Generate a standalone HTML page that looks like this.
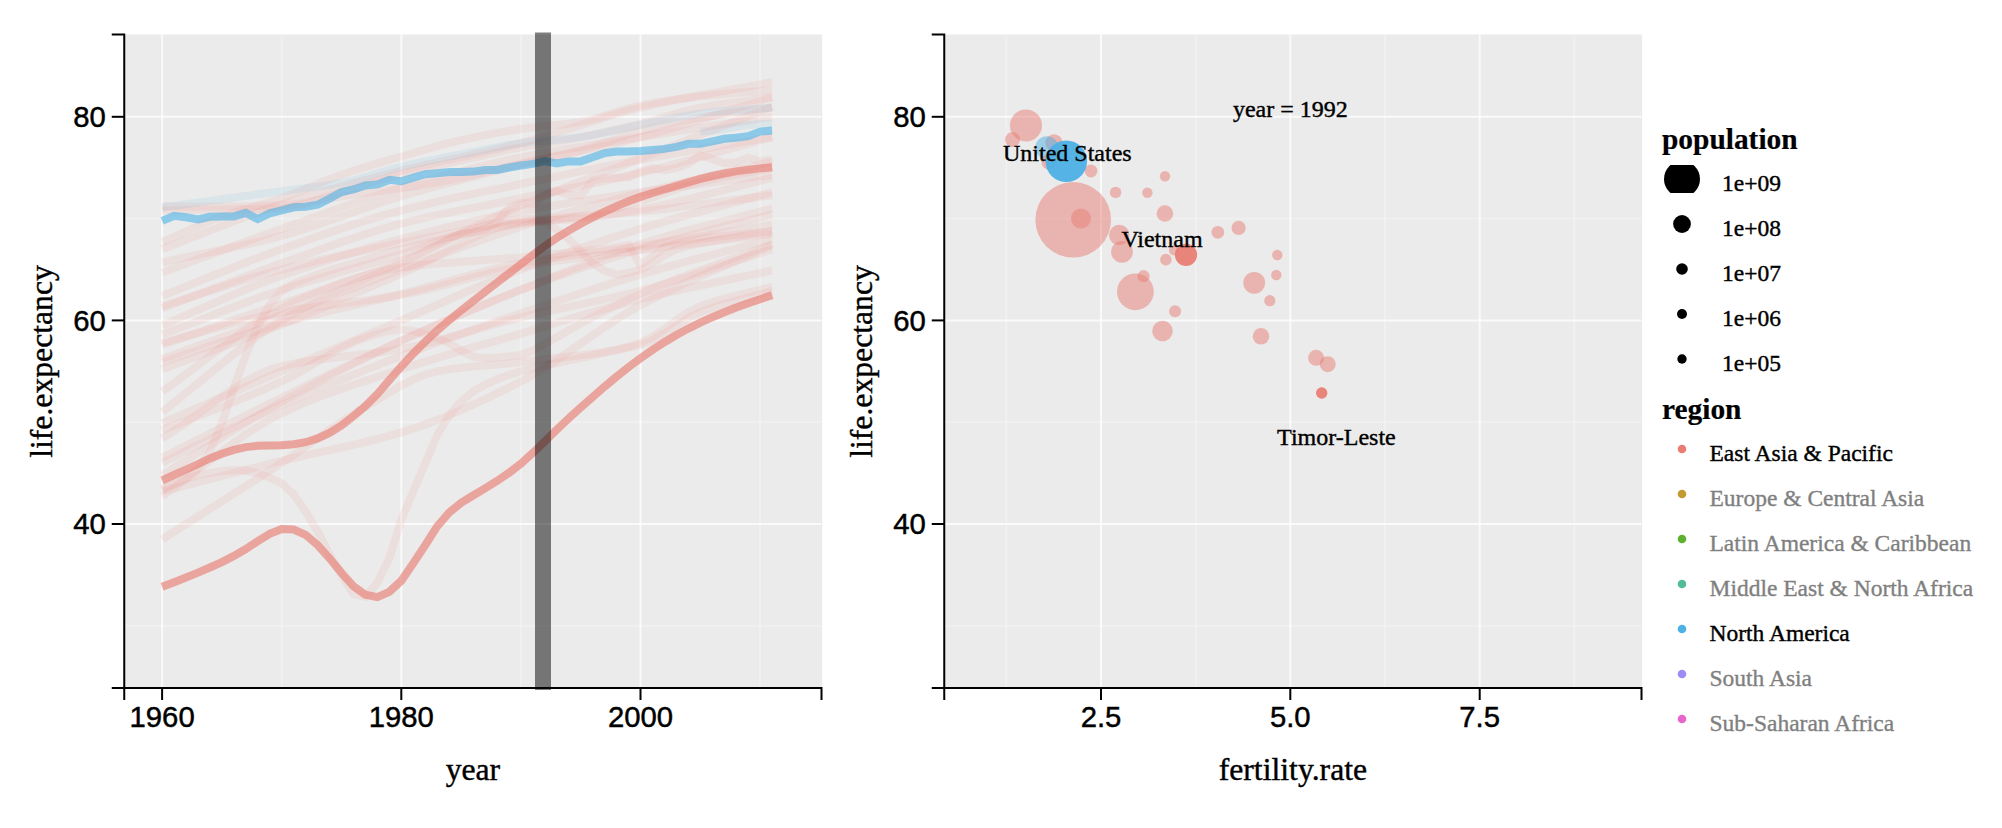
<!DOCTYPE html>
<html lang="en"><head><meta charset="utf-8"><title>ggvis linked plots</title>
<style>html,body{margin:0;padding:0;background:#fff;overflow:hidden}svg{display:block}.sans{font-family:"Liberation Sans",Arial,Helvetica,sans-serif;font-size:29.3px;fill:#000;stroke:#000;stroke-width:.45px}.ser{font-family:"Liberation Serif","Times New Roman",Times,serif;fill:#000;stroke:#000;stroke-width:.4px}.lt{stroke-width:.2px}.t{font-size:31.7px}.lt{font-size:29.4px;font-weight:bold}.ll{font-size:23.5px}.m{font-size:24px}</style></head><body>
<svg width="2002" height="828" viewBox="0 0 2002 828">
<rect width="2002" height="828" fill="#fff"/>
<rect x="124.25" y="34.5" width="697.9" height="652.5" fill="#ebebeb"/>
<path d="M281.7,34.5V687" stroke="#fff" stroke-opacity=".27" stroke-width="2"/><path d="M520.9,34.5V687" stroke="#fff" stroke-opacity=".27" stroke-width="2"/><path d="M760.1,34.5V687" stroke="#fff" stroke-opacity=".27" stroke-width="2"/><path d="M124.25,218.6H821.5" stroke="#fff" stroke-opacity=".27" stroke-width="2"/><path d="M124.25,422.2H821.5" stroke="#fff" stroke-opacity=".27" stroke-width="2"/><path d="M124.25,625.8H821.5" stroke="#fff" stroke-opacity=".27" stroke-width="2"/><path d="M162.1,34.5V687" stroke="#fff" stroke-opacity=".72" stroke-width="2"/><path d="M401.3,34.5V687" stroke="#fff" stroke-opacity=".72" stroke-width="2"/><path d="M640.5,34.5V687" stroke="#fff" stroke-opacity=".72" stroke-width="2"/><path d="M124.25,116.8H821.5" stroke="#fff" stroke-opacity=".72" stroke-width="2"/><path d="M124.25,320.4H821.5" stroke="#fff" stroke-opacity=".72" stroke-width="2"/><path d="M124.25,524.0H821.5" stroke="#fff" stroke-opacity=".72" stroke-width="2"/>
<g fill="none" stroke-width="8" stroke-linejoin="miter">
<path d="M162.1,210.4L174.1,210.2L186.0,210.0L198.0,209.8L209.9,209.6L221.9,209.4L233.9,209.2L245.8,209.1L257.8,208.9L269.7,208.7L281.7,208.4L293.7,207.0L305.6,204.0L317.6,200.1L329.5,195.9L341.5,192.1L353.5,188.5L365.4,184.6L377.4,180.8L389.3,177.1L401.3,173.8L413.3,170.9L425.2,168.2L437.2,165.6L449.1,163.1L461.1,160.5L473.1,157.8L485.0,155.1L497.0,152.3L508.9,149.7L520.9,147.3L532.9,145.1L544.8,143.2L556.8,141.3L568.7,139.3L580.7,137.1L592.7,134.7L604.6,132.2L616.6,129.5L628.5,126.8L640.5,123.9L652.5,120.7L664.4,117.1L676.4,113.6L688.3,110.3L700.3,107.6L712.3,105.5L724.2,103.7L736.2,102.1L748.1,100.6L760.1,99.0L772.1,97.4" stroke="#E87E73" stroke-opacity=".105"/>
<path d="M162.1,295.9L174.1,291.2L186.0,286.4L198.0,281.6L209.9,276.8L221.9,272.0L233.9,267.2L245.8,262.5L257.8,257.9L269.7,253.4L281.7,249.1L293.7,244.9L305.6,240.7L317.6,236.5L329.5,232.4L341.5,228.4L353.5,224.5L365.4,220.7L377.4,217.1L389.3,213.7L401.3,210.4L413.3,207.4L425.2,204.5L437.2,201.7L449.1,199.0L461.1,196.4L473.1,193.9L485.0,191.4L497.0,189.0L508.9,186.5L520.9,184.0L532.9,181.4L544.8,178.9L556.8,176.3L568.7,173.8L580.7,171.3L592.7,168.9L604.6,166.5L616.6,164.1L628.5,161.8L640.5,159.5L652.5,157.3L664.4,155.2L676.4,153.1L688.3,151.1L700.3,149.1L712.3,147.1L724.2,145.1L736.2,143.1L748.1,141.1L760.1,139.1L772.1,137.1" stroke="#E87E73" stroke-opacity=".105"/>
<path d="M162.1,490.4L174.1,484.7L186.0,479.0L198.0,475.1L209.9,472.9L221.9,471.0L233.9,470.1L245.8,470.6L257.8,473.3L269.7,477.7L281.7,483.3L293.7,494.4L305.6,511.5L317.6,531.2L329.5,554.5L341.5,574.9L353.5,593.9L365.4,596.7L377.4,582.6L389.3,558.2L401.3,519.9L413.3,491.1L425.2,463.5L437.2,435.0L449.1,415.9L461.1,401.6L473.1,391.6L485.0,384.8L497.0,379.4L508.9,375.0L520.9,371.3L532.9,368.1L544.8,365.5L556.8,363.1L568.7,360.7L580.7,358.0L592.7,355.3L604.6,352.7L616.6,349.9L628.5,346.7L640.5,342.8L652.5,336.9L664.4,328.9L676.4,320.2L688.3,312.1L700.3,306.1L712.3,302.0L724.2,298.5L736.2,295.5L748.1,292.6L760.1,289.8L772.1,286.8" stroke="#E87E73" stroke-opacity=".105"/>
<path d="M162.1,488.4L174.1,483.8L186.0,478.2L198.0,468.4L209.9,452.1L221.9,423.0L233.9,387.7L245.8,354.9L257.8,325.5L269.7,304.7L281.7,290.9L293.7,283.8L305.6,278.9L317.6,274.6L329.5,270.5L341.5,266.9L353.5,263.4L365.4,259.7L377.4,256.0L389.3,252.4L401.3,249.1L413.3,246.0L425.2,243.0L437.2,240.2L449.1,237.4L461.1,234.9L473.1,232.4L485.0,229.9L497.0,227.7L508.9,225.5L520.9,223.7L532.9,222.1L544.8,220.8L556.8,219.6L568.7,218.2L580.7,216.5L592.7,214.2L604.6,211.4L616.6,208.2L628.5,204.7L640.5,201.3L652.5,197.5L664.4,193.4L676.4,189.2L688.3,185.3L700.3,181.9L712.3,179.1L724.2,176.6L736.2,174.3L748.1,172.2L760.1,170.0L772.1,167.7" stroke="#E87E73" stroke-opacity=".105"/>
<path d="M162.1,362.1L174.1,358.2L186.0,354.2L198.0,350.2L209.9,346.1L221.9,342.1L233.9,338.2L245.8,334.3L257.8,330.5L269.7,326.9L281.7,323.4L293.7,320.2L305.6,317.0L317.6,314.0L329.5,311.1L341.5,308.2L353.5,305.4L365.4,302.6L377.4,299.8L389.3,296.9L401.3,293.9L413.3,290.8L425.2,287.6L437.2,284.3L449.1,281.0L461.1,277.6L473.1,274.4L485.0,271.3L497.0,268.4L508.9,265.7L520.9,263.4L532.9,261.3L544.8,259.3L556.8,257.5L568.7,255.8L580.7,254.2L592.7,252.7L604.6,251.1L616.6,249.5L628.5,247.8L640.5,246.1L652.5,244.2L664.4,242.3L676.4,240.4L688.3,238.5L700.3,236.5L712.3,234.5L724.2,232.6L736.2,230.6L748.1,228.6L760.1,226.6L772.1,224.7" stroke="#E87E73" stroke-opacity=".105"/>
<path d="M162.1,359.1L174.1,354.7L186.0,350.3L198.0,346.0L209.9,341.7L221.9,337.3L233.9,332.9L245.8,328.6L257.8,324.2L269.7,319.7L281.7,315.3L293.7,310.8L305.6,306.2L317.6,301.6L329.5,297.0L341.5,292.3L353.5,287.7L365.4,283.1L377.4,278.5L389.3,273.9L401.3,269.5L413.3,265.0L425.2,260.6L437.2,256.1L449.1,251.7L461.1,247.3L473.1,242.9L485.0,238.7L497.0,234.6L508.9,230.6L520.9,226.7L532.9,223.0L544.8,219.4L556.8,215.9L568.7,212.4L580.7,209.1L592.7,205.8L604.6,202.6L616.6,199.4L628.5,196.2L640.5,193.1L652.5,190.1L664.4,187.1L676.4,184.1L688.3,181.3L700.3,178.4L712.3,175.6L724.2,172.8L736.2,170.0L748.1,167.2L760.1,164.4L772.1,161.6" stroke="#E87E73" stroke-opacity=".105"/>
<path d="M162.1,308.2L174.1,303.7L186.0,299.1L198.0,294.6L209.9,290.0L221.9,285.4L233.9,280.9L245.8,276.4L257.8,272.0L269.7,267.6L281.7,263.4L293.7,259.1L305.6,254.8L317.6,250.6L329.5,246.3L341.5,242.1L353.5,238.1L365.4,234.1L377.4,230.4L389.3,226.9L401.3,223.7L413.3,220.7L425.2,217.9L437.2,215.2L449.1,212.7L461.1,210.2L473.1,207.9L485.0,205.5L497.0,203.1L508.9,200.7L520.9,198.2L532.9,195.7L544.8,193.2L556.8,190.8L568.7,188.3L580.7,185.9L592.7,183.4L604.6,180.8L616.6,178.2L628.5,175.5L640.5,172.8L652.5,169.8L664.4,166.8L676.4,163.7L688.3,160.4L700.3,157.1L712.3,153.8L724.2,150.4L736.2,147.1L748.1,143.7L760.1,140.4L772.1,137.1" stroke="#E87E73" stroke-opacity=".105"/>
<path d="M162.1,249.1L174.1,244.6L186.0,239.9L198.0,235.3L209.9,230.6L221.9,225.9L233.9,221.3L245.8,216.8L257.8,212.5L269.7,208.3L281.7,204.3L293.7,200.5L305.6,196.9L317.6,193.3L329.5,189.9L341.5,186.5L353.5,183.2L365.4,180.0L377.4,176.9L389.3,173.8L401.3,170.7L413.3,167.8L425.2,165.0L437.2,162.3L449.1,159.7L461.1,157.1L473.1,154.5L485.0,151.8L497.0,149.1L508.9,146.2L520.9,143.2L532.9,140.0L544.8,136.5L556.8,132.7L568.7,128.9L580.7,125.1L592.7,121.2L604.6,117.5L616.6,113.9L628.5,110.6L640.5,107.6L652.5,104.9L664.4,102.3L676.4,99.9L688.3,97.5L700.3,95.3L712.3,93.1L724.2,90.9L736.2,88.8L748.1,86.6L760.1,84.4L772.1,82.1" stroke="#E87E73" stroke-opacity=".105"/>
<path d="M162.1,475.1L174.1,467.7L186.0,460.3L198.0,452.7L209.9,445.2L221.9,437.6L233.9,430.2L245.8,422.8L257.8,415.6L269.7,408.6L281.7,401.8L293.7,395.2L305.6,388.7L317.6,382.3L329.5,376.1L341.5,369.9L353.5,363.8L365.4,357.9L377.4,352.1L389.3,346.4L401.3,340.7L413.3,335.2L425.2,329.8L437.2,324.4L449.1,319.2L461.1,314.0L473.1,308.9L485.0,304.0L497.0,299.1L508.9,294.4L520.9,289.8L532.9,285.4L544.8,280.9L556.8,276.6L568.7,272.4L580.7,268.3L592.7,264.2L604.6,260.3L616.6,256.5L628.5,252.7L640.5,249.1L652.5,245.6L664.4,242.3L676.4,239.0L688.3,235.9L700.3,232.8L712.3,229.7L724.2,226.7L736.2,223.7L748.1,220.7L760.1,217.6L772.1,214.5" stroke="#E87E73" stroke-opacity=".105"/>
<path d="M162.1,242.0L174.1,236.8L186.0,231.4L198.0,226.1L209.9,221.1L221.9,216.5L233.9,212.6L245.8,209.0L257.8,205.6L269.7,202.1L281.7,198.2L293.7,193.8L305.6,189.0L317.6,184.0L329.5,179.2L341.5,174.8L353.5,170.8L365.4,167.0L377.4,163.4L389.3,159.9L401.3,156.5L413.3,153.0L425.2,149.5L437.2,146.2L449.1,143.0L461.1,140.2L473.1,137.6L485.0,135.2L497.0,132.9L508.9,130.8L520.9,129.0L532.9,127.4L544.8,126.2L556.8,125.0L568.7,123.6L580.7,121.9L592.7,119.3L604.6,115.8L616.6,112.0L628.5,108.4L640.5,105.6L652.5,103.3L664.4,101.3L676.4,99.4L688.3,97.8L700.3,96.4L712.3,95.2L724.2,94.1L736.2,93.1L748.1,92.2L760.1,91.3L772.1,90.3" stroke="#E87E73" stroke-opacity=".105"/>
<path d="M162.1,462.9L174.1,457.1L186.0,451.1L198.0,445.2L209.9,439.2L221.9,433.3L233.9,427.4L245.8,421.6L257.8,415.9L269.7,410.3L281.7,404.9L293.7,399.6L305.6,394.5L317.6,389.4L329.5,384.4L341.5,379.5L353.5,374.7L365.4,369.9L377.4,365.2L389.3,360.6L401.3,356.0L413.3,351.5L425.2,347.0L437.2,342.6L449.1,338.3L461.1,334.0L473.1,329.8L485.0,325.6L497.0,321.4L508.9,317.3L520.9,313.3L532.9,309.2L544.8,305.2L556.8,301.1L568.7,297.2L580.7,293.2L592.7,289.4L604.6,285.6L616.6,281.8L628.5,278.1L640.5,274.6L652.5,271.1L664.4,267.7L676.4,264.4L688.3,261.1L700.3,257.9L712.3,254.8L724.2,251.6L736.2,248.5L748.1,245.3L760.1,242.1L772.1,238.9" stroke="#E87E73" stroke-opacity=".105"/>
<path d="M162.1,412.0L174.1,402.7L186.0,393.0L198.0,383.2L209.9,373.3L221.9,363.5L233.9,354.0L245.8,344.7L257.8,336.0L269.7,327.8L281.7,320.4L293.7,313.6L305.6,307.2L317.6,301.1L329.5,295.3L341.5,289.8L353.5,284.4L365.4,279.1L377.4,273.9L389.3,268.7L401.3,263.4L413.3,257.7L425.2,251.7L437.2,245.6L449.1,239.6L461.1,234.1L473.1,229.2L485.0,225.3L497.0,222.6L508.9,220.7L520.9,219.2L532.9,218.6L544.8,221.9L556.8,229.7L568.7,238.9L580.7,251.5L592.7,263.4L604.6,270.9L616.6,274.6L628.5,272.9L640.5,269.5L652.5,263.4L664.4,255.3L676.4,249.1L688.3,245.8L700.3,243.2L712.3,241.0L724.2,238.9L736.2,237.0L748.1,235.2L760.1,233.5L772.1,231.8" stroke="#E87E73" stroke-opacity=".105"/>
<path d="M162.1,391.6L174.1,383.1L186.0,374.2L198.0,365.1L209.9,356.0L221.9,347.0L233.9,338.2L245.8,329.8L257.8,321.9L269.7,314.6L281.7,308.2L293.7,302.5L305.6,297.2L317.6,292.4L329.5,287.9L341.5,283.6L353.5,279.4L365.4,275.2L377.4,270.8L389.3,266.2L401.3,261.3L413.3,256.1L425.2,250.6L437.2,245.0L449.1,239.2L461.1,233.3L473.1,227.5L485.0,221.7L497.0,216.1L508.9,210.6L520.9,205.3L532.9,200.3L544.8,195.4L556.8,190.7L568.7,186.0L580.7,181.4L592.7,176.9L604.6,172.3L616.6,167.8L628.5,163.2L640.5,158.5L652.5,153.8L664.4,149.1L676.4,144.4L688.3,139.7L700.3,134.9L712.3,130.2L724.2,125.5L736.2,120.8L748.1,116.0L760.1,111.3L772.1,106.6" stroke="#E87E73" stroke-opacity=".105"/>
<path d="M162.1,491.4L174.1,488.4L186.0,485.3L198.0,482.2L209.9,479.1L221.9,476.0L233.9,472.9L245.8,469.9L257.8,466.9L269.7,463.8L281.7,460.9L293.7,458.0L305.6,455.3L317.6,452.7L329.5,450.1L341.5,447.5L353.5,444.8L365.4,442.0L377.4,439.1L389.3,435.9L401.3,432.4L413.3,428.5L425.2,424.4L437.2,419.9L449.1,415.1L461.1,410.0L473.1,404.7L485.0,399.1L497.0,393.4L508.9,387.5L520.9,381.5L532.9,375.0L544.8,367.7L556.8,360.0L568.7,351.9L580.7,343.6L592.7,335.3L604.6,327.1L616.6,319.3L628.5,311.9L640.5,305.1L652.5,298.9L664.4,293.0L676.4,287.3L688.3,281.8L700.3,276.4L712.3,271.2L724.2,266.0L736.2,260.9L748.1,255.7L760.1,250.4L772.1,245.0" stroke="#E87E73" stroke-opacity=".105"/>
<path d="M162.1,272.5L174.1,268.1L186.0,263.7L198.0,259.3L209.9,254.9L221.9,250.4L233.9,246.0L245.8,241.7L257.8,237.3L269.7,233.0L281.7,228.8L293.7,224.5L305.6,220.2L317.6,216.0L329.5,211.7L341.5,207.5L353.5,203.3L365.4,199.3L377.4,195.4L389.3,191.6L401.3,188.0L413.3,184.6L425.2,181.2L437.2,177.8L449.1,174.6L461.1,171.4L473.1,168.4L485.0,165.5L497.0,162.7L508.9,160.0L520.9,157.5L532.9,155.1L544.8,152.9L556.8,150.7L568.7,148.7L580.7,146.7L592.7,144.7L604.6,142.8L616.6,140.9L628.5,139.0L640.5,137.1L652.5,135.2L664.4,133.3L676.4,131.4L688.3,129.6L700.3,127.7L712.3,125.9L724.2,124.1L736.2,122.3L748.1,120.4L760.1,118.6L772.1,116.8" stroke="#E87E73" stroke-opacity=".105"/>
<path d="M162.1,325.5L174.1,320.4L186.0,315.2L198.0,310.0L209.9,304.8L221.9,299.6L233.9,294.4L245.8,289.4L257.8,284.6L269.7,280.0L281.7,275.6L293.7,271.4L305.6,267.4L317.6,263.4L329.5,259.6L341.5,255.9L353.5,252.3L365.4,248.8L377.4,245.4L389.3,242.1L401.3,238.9L413.3,235.8L425.2,232.8L437.2,229.8L449.1,226.9L461.1,224.1L473.1,221.4L485.0,218.7L497.0,216.2L508.9,213.8L520.9,211.4L532.9,209.2L544.8,207.1L556.8,205.0L568.7,203.0L580.7,201.1L592.7,199.2L604.6,197.4L616.6,195.6L628.5,193.8L640.5,192.1L652.5,190.4L664.4,188.7L676.4,187.1L688.3,185.5L700.3,184.0L712.3,182.5L724.2,180.9L736.2,179.4L748.1,177.9L760.1,176.4L772.1,174.8" stroke="#E87E73" stroke-opacity=".105"/>
<path d="M162.1,344.8L174.1,340.7L186.0,336.6L198.0,332.5L209.9,328.3L221.9,324.2L233.9,320.1L245.8,316.0L257.8,312.0L269.7,308.0L281.7,304.1L293.7,300.1L305.6,295.9L317.6,291.5L329.5,287.2L341.5,282.9L353.5,278.9L365.4,275.3L377.4,272.1L389.3,269.4L401.3,267.4L413.3,266.0L425.2,264.7L437.2,263.6L449.1,262.7L461.1,261.8L473.1,260.9L485.0,260.1L497.0,259.3L508.9,258.3L520.9,257.3L532.9,256.1L544.8,255.0L556.8,253.9L568.7,252.7L580.7,251.5L592.7,250.1L604.6,248.7L616.6,247.1L628.5,245.0L640.5,265.4L652.5,256.2L664.4,247.1L676.4,243.0L688.3,240.7L700.3,238.8L712.3,237.3L724.2,235.9L736.2,234.7L748.1,233.5L760.1,232.2L772.1,230.8" stroke="#E87E73" stroke-opacity=".105"/>
<path d="M162.1,438.5L174.1,430.9L186.0,422.6L198.0,414.0L209.9,405.3L221.9,396.8L233.9,388.7L245.8,381.4L257.8,375.0L269.7,369.8L281.7,366.2L293.7,363.6L305.6,361.5L317.6,359.8L329.5,358.2L341.5,356.8L353.5,355.5L365.4,354.2L377.4,352.7L389.3,350.9L401.3,348.9L413.3,346.5L425.2,343.7L437.2,340.6L449.1,337.3L461.1,333.9L473.1,330.4L485.0,327.0L497.0,323.6L508.9,320.3L520.9,317.3L532.9,314.5L544.8,311.9L556.8,309.3L568.7,306.8L580.7,304.4L592.7,301.9L604.6,299.3L616.6,296.7L628.5,293.9L640.5,290.9L652.5,287.6L664.4,284.2L676.4,280.6L688.3,276.8L700.3,272.9L712.3,268.9L724.2,264.9L736.2,260.9L748.1,256.9L760.1,253.0L772.1,249.1" stroke="#E87E73" stroke-opacity=".105"/>
<path d="M162.1,496.5L174.1,487.9L186.0,479.0L198.0,469.8L209.9,460.6L221.9,451.5L233.9,442.7L245.8,434.2L257.8,426.4L269.7,419.3L281.7,413.0L293.7,407.5L305.6,402.4L317.6,397.6L329.5,393.1L341.5,388.9L353.5,384.8L365.4,380.9L377.4,377.0L389.3,373.1L401.3,369.2L413.3,365.4L425.2,361.6L437.2,358.0L449.1,354.4L461.1,350.9L473.1,347.4L485.0,344.0L497.0,340.6L508.9,337.1L520.9,333.6L532.9,330.1L544.8,326.5L556.8,322.8L568.7,319.2L580.7,315.6L592.7,312.1L604.6,308.6L616.6,305.3L628.5,302.1L640.5,299.0L652.5,296.1L664.4,293.3L676.4,290.6L688.3,288.0L700.3,285.5L712.3,283.0L724.2,280.5L736.2,278.0L748.1,275.6L760.1,273.1L772.1,270.5" stroke="#E87E73" stroke-opacity=".105"/>
<path d="M162.1,206.4L174.1,206.4L186.0,206.4L198.0,206.4L209.9,206.4L221.9,206.4L233.9,206.3L245.8,206.2L257.8,206.0L269.7,205.7L281.7,205.3L293.7,204.4L305.6,202.7L317.6,200.5L329.5,198.2L341.5,196.2L353.5,194.5L365.4,192.9L377.4,191.4L389.3,189.8L401.3,188.0L413.3,186.2L425.2,184.3L437.2,182.3L449.1,180.1L461.1,177.8L473.1,175.3L485.0,172.4L497.0,169.4L508.9,166.5L520.9,163.6L532.9,161.0L544.8,158.5L556.8,156.0L568.7,153.3L580.7,150.4L592.7,146.8L604.6,142.8L616.6,138.6L628.5,134.5L640.5,131.0L652.5,128.0L664.4,125.1L676.4,122.4L688.3,120.0L700.3,117.8L712.3,115.8L724.2,114.0L736.2,112.4L748.1,110.8L760.1,109.2L772.1,107.6" stroke="#E87E73" stroke-opacity=".105"/>
<path d="M162.1,539.3L174.1,531.7L186.0,524.1L198.0,516.5L209.9,508.9L221.9,501.3L233.9,493.7L245.8,486.1L257.8,478.4L269.7,470.7L281.7,462.9L293.7,454.9L305.6,446.6L317.6,438.2L329.5,429.9L341.5,421.8L353.5,414.1L365.4,406.9L377.4,399.9L389.3,392.6L401.3,385.6L413.3,379.4L425.2,374.5L437.2,371.3L449.1,369.4L461.1,367.8L473.1,366.6L485.0,365.6L497.0,364.6L508.9,363.4L520.9,362.1L532.9,360.7L544.8,359.4L556.8,358.1L568.7,356.7L580.7,355.3L592.7,353.7L604.6,351.9L616.6,349.9L628.5,347.5L640.5,344.8L652.5,340.3L664.4,333.5L676.4,325.6L688.3,318.1L700.3,312.2L712.3,307.9L724.2,304.1L736.2,300.7L748.1,297.5L760.1,294.3L772.1,290.9" stroke="#E87E73" stroke-opacity=".105"/>
<path d="M162.1,342.8L174.1,339.6L186.0,336.4L198.0,333.1L209.9,329.7L221.9,326.5L233.9,323.2L245.8,320.2L257.8,317.3L269.7,314.6L281.7,312.2L293.7,310.2L305.6,308.3L317.6,306.6L329.5,305.0L341.5,303.5L353.5,302.0L365.4,300.4L377.4,298.8L389.3,297.0L401.3,294.9L413.3,292.6L425.2,289.9L437.2,286.9L449.1,283.8L461.1,280.6L473.1,277.4L485.0,274.3L497.0,271.3L508.9,268.7L520.9,266.4L532.9,264.4L544.8,262.6L556.8,260.8L568.7,259.2L580.7,257.6L592.7,256.1L604.6,254.6L616.6,253.1L628.5,251.7L640.5,250.1L652.5,248.6L664.4,247.1L676.4,245.6L688.3,244.1L700.3,242.6L712.3,241.2L724.2,239.7L736.2,238.2L748.1,236.8L760.1,235.3L772.1,233.8" stroke="#E87E73" stroke-opacity=".105"/>
<path d="M162.1,423.2L174.1,418.0L186.0,412.8L198.0,407.6L209.9,402.4L221.9,397.2L233.9,392.0L245.8,386.8L257.8,381.6L269.7,376.4L281.7,371.3L293.7,366.2L305.6,361.0L317.6,355.9L329.5,350.9L341.5,345.8L353.5,340.7L365.4,335.6L377.4,330.5L389.3,325.5L401.3,320.4L413.3,315.2L425.2,310.0L437.2,304.8L449.1,299.5L461.1,294.2L473.1,289.0L485.0,283.9L497.0,278.9L508.9,274.1L520.9,269.5L532.9,265.0L544.8,260.6L556.8,256.3L568.7,252.1L580.7,248.0L592.7,244.0L604.6,240.1L616.6,236.2L628.5,232.5L640.5,228.8L652.5,225.1L664.4,221.6L676.4,218.2L688.3,214.9L700.3,211.6L712.3,208.3L724.2,205.1L736.2,201.9L748.1,198.7L760.1,195.4L772.1,192.1" stroke="#E87E73" stroke-opacity=".105"/>
<path d="M162.1,262.3L174.1,259.7L186.0,257.2L198.0,254.7L209.9,252.3L221.9,249.8L233.9,247.2L245.8,244.6L257.8,241.8L269.7,239.0L281.7,235.9L293.7,232.5L305.6,228.8L317.6,224.8L329.5,220.7L341.5,216.5L353.5,212.2L365.4,207.9L377.4,203.8L389.3,199.8L401.3,196.2L413.3,192.7L425.2,189.3L437.2,186.0L449.1,182.8L461.1,179.7L473.1,176.6L485.0,173.5L497.0,170.5L508.9,167.6L520.9,164.6L532.9,161.7L544.8,159.0L556.8,156.3L568.7,153.7L580.7,151.1L592.7,148.5L604.6,145.8L616.6,143.0L628.5,140.1L640.5,137.1L652.5,133.9L664.4,130.6L676.4,127.1L688.3,123.5L700.3,119.8L712.3,116.1L724.2,112.3L736.2,108.5L748.1,104.8L760.1,101.1L772.1,97.4" stroke="#E87E73" stroke-opacity=".105"/>
<path d="M162.1,430.3L174.1,425.5L186.0,420.8L198.0,416.1L209.9,411.4L221.9,406.7L233.9,401.9L245.8,397.1L257.8,392.1L269.7,386.9L281.7,381.5L293.7,375.4L305.6,368.6L317.6,361.5L329.5,354.4L341.5,347.8L353.5,342.1L365.4,337.7L377.4,334.0L389.3,330.9L401.3,329.5L413.3,330.9L425.2,334.0L437.2,337.9L449.1,343.2L461.1,350.7L473.1,356.8L485.0,358.0L497.0,357.5L508.9,356.5L520.9,355.0L532.9,350.5L544.8,343.8L556.8,337.3L568.7,330.4L580.7,323.6L592.7,317.2L604.6,311.1L616.6,305.1L628.5,299.3L640.5,293.9L652.5,288.8L664.4,283.9L676.4,279.2L688.3,274.7L700.3,270.2L712.3,265.9L724.2,261.5L736.2,257.2L748.1,252.9L760.1,248.5L772.1,244.0" stroke="#E87E73" stroke-opacity=".105"/>
<path d="M162.1,369.2L174.1,364.8L186.0,360.4L198.0,356.0L209.9,351.6L221.9,347.2L233.9,342.8L245.8,338.3L257.8,333.8L269.7,329.2L281.7,324.5L293.7,319.6L305.6,314.7L317.6,309.7L329.5,304.6L341.5,299.4L353.5,294.2L365.4,289.0L377.4,283.8L389.3,278.7L401.3,273.5L413.3,268.1L425.2,262.2L437.2,255.9L449.1,249.5L461.1,243.4L473.1,237.5L485.0,232.3L497.0,228.0L508.9,224.7L520.9,222.6L532.9,221.6L544.8,220.8L556.8,220.2L568.7,219.5L580.7,218.6L592.7,217.2L604.6,215.6L616.6,213.7L628.5,211.6L640.5,209.4L652.5,207.1L664.4,204.6L676.4,201.9L688.3,199.1L700.3,196.1L712.3,193.1L724.2,190.0L736.2,186.9L748.1,183.8L760.1,180.8L772.1,177.8" stroke="#E87E73" stroke-opacity=".105"/>
<path d="M162.1,306.1L174.1,302.4L186.0,298.6L198.0,294.8L209.9,290.9L221.9,287.1L233.9,283.3L245.8,279.6L257.8,276.0L269.7,272.7L281.7,269.5L293.7,266.5L305.6,263.5L317.6,260.7L329.5,258.0L341.5,255.4L353.5,252.8L365.4,250.3L377.4,247.8L389.3,245.4L401.3,243.0L413.3,240.6L425.2,238.2L437.2,235.8L449.1,233.4L461.1,231.1L473.1,228.9L485.0,226.8L497.0,224.9L508.9,223.1L520.9,221.6L532.9,220.3L544.8,219.2L556.8,218.2L568.7,217.2L580.7,216.3L592.7,215.4L604.6,214.5L616.6,213.6L628.5,212.6L640.5,211.4L652.5,210.2L664.4,208.9L676.4,207.4L688.3,206.0L700.3,204.5L712.3,202.9L724.2,201.3L736.2,199.8L748.1,198.2L760.1,196.7L772.1,195.2" stroke="#E87E73" stroke-opacity=".105"/>
<path d="M162.1,457.8L174.1,451.8L186.0,445.8L198.0,439.7L209.9,433.6L221.9,427.6L233.9,421.6L245.8,415.5L257.8,409.6L269.7,403.6L281.7,397.8L293.7,391.9L305.6,386.1L317.6,380.2L329.5,374.4L341.5,368.7L353.5,362.9L365.4,357.3L377.4,351.7L389.3,346.2L401.3,340.7L413.3,335.4L425.2,330.1L437.2,324.9L449.1,319.7L461.1,314.6L473.1,309.5L485.0,304.5L497.0,299.6L508.9,294.7L520.9,289.8L532.9,285.0L544.8,280.1L556.8,275.2L568.7,270.4L580.7,265.7L592.7,261.0L604.6,256.5L616.6,252.1L628.5,248.0L640.5,244.0L652.5,240.3L664.4,236.8L676.4,233.4L688.3,230.1L700.3,227.0L712.3,223.9L724.2,220.8L736.2,217.8L748.1,214.7L760.1,211.6L772.1,208.4" stroke="#E87E73" stroke-opacity=".105"/>
<path d="M162.1,334.6L174.1,330.1L186.0,325.5L198.0,320.9L209.9,316.2L221.9,311.6L233.9,307.0L245.8,302.5L257.8,298.1L269.7,293.9L281.7,289.8L293.7,286.0L305.6,282.3L317.6,278.8L329.5,275.3L341.5,271.9L353.5,268.5L365.4,265.1L377.4,261.6L389.3,258.0L401.3,254.2L413.3,250.2L425.2,246.1L437.2,241.9L449.1,237.6L461.1,233.2L473.1,232.4L485.0,229.5L497.0,222.1L508.9,207.7L520.9,202.7L532.9,203.9L544.8,195.0L556.8,191.2L568.7,194.9L580.7,195.4L592.7,180.6L604.6,178.1L616.6,177.9L628.5,177.2L640.5,171.4L652.5,168.3L664.4,170.2L676.4,168.2L688.3,163.8L700.3,155.1L712.3,158.9L724.2,163.3L736.2,162.2L748.1,157.8L760.1,161.2L772.1,159.9" stroke="#E87E73" stroke-opacity=".105"/>
<path d="M162.1,207.4L174.1,205.7L186.0,204.1L198.0,202.5L209.9,200.9L221.9,199.2L233.9,197.6L245.8,196.0L257.8,194.3L269.7,192.7L281.7,191.1L293.7,189.5L305.6,188.1L317.6,186.6L329.5,184.9L341.5,182.9L353.5,180.3L365.4,177.0L377.4,173.3L389.3,169.8L401.3,166.6L413.3,164.0L425.2,161.5L437.2,159.1L449.1,156.7L461.1,154.4L473.1,152.0L485.0,149.6L497.0,147.2L508.9,145.0L520.9,143.2L532.9,141.8L544.8,140.7L556.8,139.7L568.7,138.5L580.7,137.1L592.7,135.2L604.6,132.8L616.6,130.1L628.5,127.4L640.5,124.9L652.5,122.5L664.4,120.0L676.4,117.5L688.3,115.4L700.3,113.7L712.3,112.4L724.2,111.3L736.2,110.4L748.1,109.5L760.1,108.6L772.1,107.6" stroke="#4DB1E5" stroke-opacity=".105"/>
<path d="M700.3,131.4L712.3,131.0L724.2,129.0L736.2,126.8L748.1,124.9L760.1,123.9L772.1,123.9" stroke="#4DB1E5" stroke-opacity=".105"/>
<path d="M162.1,586.8L174.1,582.2L186.0,577.5L198.0,572.6L209.9,567.5L221.9,562.1L233.9,555.9L245.8,549.0L257.8,541.1L269.7,533.9L281.7,529.1L293.7,529.5L305.6,534.8L317.6,545.0L329.5,558.3L341.5,572.8L353.5,586.3L365.4,594.7L377.4,597.1L389.3,591.8L401.3,580.8L413.3,563.2L425.2,545.2L437.2,526.3L449.1,512.7L461.1,502.8L473.1,495.5L485.0,488.4L497.0,481.0L508.9,472.9L520.9,463.6L532.9,452.8L544.8,441.3L556.8,429.7L568.7,418.4L580.7,407.5L592.7,397.0L604.6,386.6L616.6,376.7L628.5,367.1L640.5,358.2L652.5,349.9L664.4,342.2L676.4,335.1L688.3,328.6L700.3,322.6L712.3,317.2L724.2,312.2L736.2,307.6L748.1,303.3L760.1,299.2L772.1,295.1" stroke="#E87E73" stroke-opacity=".65"/>
<path d="M162.1,480.5L174.1,475.0L186.0,469.6L198.0,464.0L209.9,458.4L221.9,453.8L233.9,449.9L245.8,447.1L257.8,445.7L269.7,445.4L281.7,445.2L293.7,444.2L305.6,442.2L317.6,438.4L329.5,432.9L341.5,425.5L353.5,416.1L365.4,406.1L377.4,394.0L389.3,380.2L401.3,366.4L413.3,353.6L425.2,341.6L437.2,330.6L449.1,320.2L461.1,310.5L473.1,301.2L485.0,291.9L497.0,282.7L508.9,273.5L520.9,264.2L532.9,254.9L544.8,246.0L556.8,237.9L568.7,230.6L580.7,223.8L592.7,217.5L604.6,211.6L616.6,206.1L628.5,201.3L640.5,196.9L652.5,193.0L664.4,189.5L676.4,185.9L688.3,182.3L700.3,178.9L712.3,176.0L724.2,173.5L736.2,171.4L748.1,169.8L760.1,168.4L772.1,167.2" stroke="#E87E73" stroke-opacity=".65"/>
<path d="M162.1,220.9L174.1,215.8L186.0,217.3L198.0,219.4L209.9,216.8L221.9,216.4L233.9,216.4L245.8,212.9L257.8,219.1L269.7,213.4L281.7,210.3L293.7,207.3L305.6,206.8L317.6,204.7L329.5,198.6L341.5,192.1L353.5,189.5L365.4,185.4L377.4,184.4L389.3,179.9L401.3,181.3L413.3,177.7L425.2,174.2L437.2,173.2L449.1,172.1L461.1,172.1L473.1,171.6L485.0,170.0L497.0,170.0L508.9,167.5L520.9,165.5L532.9,163.9L544.8,161.1L556.8,163.4L568.7,161.4L580.7,161.4L592.7,157.2L604.6,153.1L616.6,151.6L628.5,151.6L640.5,151.0L652.5,150.0L664.4,148.9L676.4,146.9L688.3,143.8L700.3,143.8L712.3,141.3L724.2,138.8L736.2,137.7L748.1,136.2L760.1,131.6L772.1,130.6" stroke="#4DB1E5" stroke-opacity=".6"/>
</g>
<rect x="535" y="32.5" width="16" height="657.5" fill="#000" fill-opacity=".5"/>
<path d="M111.75,34.5H124.25V688H111.75" fill="none" stroke="#000" stroke-width="2"/>
<path d="M111.75,116.8H124.25" stroke="#000" stroke-width="2"/>
<text class="sans" x="105.75" y="127.2" text-anchor="end">80</text>
<path d="M111.75,320.4H124.25" stroke="#000" stroke-width="2"/>
<text class="sans" x="105.75" y="330.8" text-anchor="end">60</text>
<path d="M111.75,524.0H124.25" stroke="#000" stroke-width="2"/>
<text class="sans" x="105.75" y="534.4" text-anchor="end">40</text>
<path d="M124.25,700V688H821.5V700" fill="none" stroke="#000" stroke-width="2"/>
<path d="M162.1,688V700" stroke="#000" stroke-width="2"/>
<text class="sans" x="162.1" y="726.7" text-anchor="middle">1960</text>
<path d="M401.3,688V700" stroke="#000" stroke-width="2"/>
<text class="sans" x="401.3" y="726.7" text-anchor="middle">1980</text>
<path d="M640.5,688V700" stroke="#000" stroke-width="2"/>
<text class="sans" x="640.5" y="726.7" text-anchor="middle">2000</text>
<text class="ser t" x="472.9" y="780.3" text-anchor="middle">year</text>
<text class="ser t" transform="translate(52.25,361.5) rotate(-90)" text-anchor="middle">life.expectancy</text>
<rect x="944.25" y="34.5" width="697.9" height="652.5" fill="#ebebeb"/>
<path d="M1006.3,34.5V687" stroke="#fff" stroke-opacity=".27" stroke-width="2"/><path d="M1195.7,34.5V687" stroke="#fff" stroke-opacity=".27" stroke-width="2"/><path d="M1385.0,34.5V687" stroke="#fff" stroke-opacity=".27" stroke-width="2"/><path d="M1574.3,34.5V687" stroke="#fff" stroke-opacity=".27" stroke-width="2"/><path d="M944.25,218.6H1641.5" stroke="#fff" stroke-opacity=".27" stroke-width="2"/><path d="M944.25,422.2H1641.5" stroke="#fff" stroke-opacity=".27" stroke-width="2"/><path d="M944.25,625.8H1641.5" stroke="#fff" stroke-opacity=".27" stroke-width="2"/><path d="M1101.0,34.5V687" stroke="#fff" stroke-opacity=".72" stroke-width="2"/><path d="M1290.3,34.5V687" stroke="#fff" stroke-opacity=".72" stroke-width="2"/><path d="M1479.7,34.5V687" stroke="#fff" stroke-opacity=".72" stroke-width="2"/><path d="M944.25,116.8H1641.5" stroke="#fff" stroke-opacity=".72" stroke-width="2"/><path d="M944.25,320.4H1641.5" stroke="#fff" stroke-opacity=".72" stroke-width="2"/><path d="M944.25,524.0H1641.5" stroke="#fff" stroke-opacity=".72" stroke-width="2"/>
<circle cx="1073.2" cy="219.8" r="37.8" fill="#E87E73" fill-opacity="0.5"/>
<circle cx="1026" cy="125.4" r="16" fill="#E87E73" fill-opacity="0.5"/>
<circle cx="1012.6" cy="139.6" r="7.5" fill="#E87E73" fill-opacity="0.5"/>
<circle cx="1054" cy="142.9" r="8.7" fill="#E87E73" fill-opacity="0.5"/>
<circle cx="1046.8" cy="147.7" r="11.5" fill="#4DB1E5" fill-opacity="0.5"/>
<circle cx="1049.2" cy="161.6" r="7.9" fill="#E87E73" fill-opacity="0.5"/>
<circle cx="1091" cy="171" r="6.4" fill="#E87E73" fill-opacity="0.5"/>
<circle cx="1081" cy="218.5" r="10" fill="#E87E73" fill-opacity="0.5"/>
<circle cx="1165" cy="176.3" r="5.2" fill="#E87E73" fill-opacity="0.5"/>
<circle cx="1115.6" cy="192.4" r="5.7" fill="#E87E73" fill-opacity="0.5"/>
<circle cx="1147.4" cy="192.8" r="5.2" fill="#E87E73" fill-opacity="0.5"/>
<circle cx="1164.9" cy="213.5" r="8.3" fill="#E87E73" fill-opacity="0.5"/>
<circle cx="1119.2" cy="235" r="10.2" fill="#E87E73" fill-opacity="0.5"/>
<circle cx="1122" cy="251.9" r="10.9" fill="#E87E73" fill-opacity="0.5"/>
<circle cx="1217.8" cy="232.3" r="6.4" fill="#E87E73" fill-opacity="0.5"/>
<circle cx="1238.6" cy="227.9" r="7.1" fill="#E87E73" fill-opacity="0.5"/>
<circle cx="1165.9" cy="259.6" r="5.8" fill="#E87E73" fill-opacity="0.5"/>
<circle cx="1174" cy="250.4" r="5" fill="#E87E73" fill-opacity="0.5"/>
<circle cx="1277.3" cy="255" r="5.2" fill="#E87E73" fill-opacity="0.5"/>
<circle cx="1276.3" cy="275" r="5.2" fill="#E87E73" fill-opacity="0.5"/>
<circle cx="1254.2" cy="282.8" r="10.9" fill="#E87E73" fill-opacity="0.5"/>
<circle cx="1269.8" cy="300.7" r="5.6" fill="#E87E73" fill-opacity="0.5"/>
<circle cx="1135.4" cy="291.8" r="18.4" fill="#E87E73" fill-opacity="0.5"/>
<circle cx="1143.6" cy="276.2" r="6.1" fill="#E87E73" fill-opacity="0.5"/>
<circle cx="1175.1" cy="311.3" r="6" fill="#E87E73" fill-opacity="0.5"/>
<circle cx="1162.5" cy="331" r="10.3" fill="#E87E73" fill-opacity="0.5"/>
<circle cx="1261" cy="336.3" r="8.3" fill="#E87E73" fill-opacity="0.5"/>
<circle cx="1316.1" cy="357.8" r="8" fill="#E87E73" fill-opacity="0.5"/>
<circle cx="1327.7" cy="364.2" r="8" fill="#E87E73" fill-opacity="0.5"/>
<circle cx="1066.3" cy="161.2" r="20.8" fill="#4DB1E5" fill-opacity="0.95"/>
<circle cx="1186" cy="254.8" r="11.1" fill="#E87E73" fill-opacity="0.95"/>
<circle cx="1321.7" cy="393" r="5.7" fill="#E87E73" fill-opacity="0.95"/>
<text class="ser m" x="1290.3" y="116.8" text-anchor="middle">year = 1992</text>
<text class="ser m" x="1067.3" y="161.4" text-anchor="middle">United States</text>
<text class="ser m" x="1162" y="247.3" text-anchor="middle">Vietnam</text>
<text class="ser m" x="1336.4" y="444.6" text-anchor="middle">Timor-Leste</text>
<path d="M931.75,34.5H944.25V688H931.75" fill="none" stroke="#000" stroke-width="2"/>
<path d="M931.75,116.8H944.25" stroke="#000" stroke-width="2"/>
<text class="sans" x="925.75" y="127.2" text-anchor="end">80</text>
<path d="M931.75,320.4H944.25" stroke="#000" stroke-width="2"/>
<text class="sans" x="925.75" y="330.8" text-anchor="end">60</text>
<path d="M931.75,524.0H944.25" stroke="#000" stroke-width="2"/>
<text class="sans" x="925.75" y="534.4" text-anchor="end">40</text>
<path d="M944.25,700V688H1641.5V700" fill="none" stroke="#000" stroke-width="2"/>
<path d="M1101.0,688V700" stroke="#000" stroke-width="2"/>
<text class="sans" x="1101.0" y="726.7" text-anchor="middle">2.5</text>
<path d="M1290.3,688V700" stroke="#000" stroke-width="2"/>
<text class="sans" x="1290.3" y="726.7" text-anchor="middle">5.0</text>
<path d="M1479.7,688V700" stroke="#000" stroke-width="2"/>
<text class="sans" x="1479.7" y="726.7" text-anchor="middle">7.5</text>
<text class="ser t" x="1292.9" y="780.3" text-anchor="middle">fertility.rate</text>
<text class="ser t" transform="translate(872.25,361.5) rotate(-90)" text-anchor="middle">life.expectancy</text>
<text class="ser lt" x="1662" y="149.2">population</text>
<clipPath id="c"><rect x="1660" y="165" width="44" height="28"/></clipPath>
<circle cx="1682" cy="179" r="18" fill="#000" clip-path="url(#c)"/>
<text class="ser ll" x="1722" y="190.8">1e+09</text>
<circle cx="1682" cy="224" r="8.9" fill="#000"/>
<text class="ser ll" x="1722" y="235.8">1e+08</text>
<circle cx="1682" cy="269" r="5.8" fill="#000"/>
<text class="ser ll" x="1722" y="280.8">1e+07</text>
<circle cx="1682" cy="314" r="5" fill="#000"/>
<text class="ser ll" x="1722" y="325.8">1e+06</text>
<circle cx="1682" cy="359" r="4.7" fill="#000"/>
<text class="ser ll" x="1722" y="370.8">1e+05</text>
<text class="ser lt" x="1662" y="418.7">region</text>
<circle cx="1682" cy="449" r="4.3" fill="#E87E73"/>
<text class="ser ll" x="1709.5" y="460.8">East Asia &amp; Pacific</text>
<circle cx="1682" cy="494" r="4.3" fill="#C29B30"/>
<text class="ser ll" x="1709.5" y="505.8" opacity=".5">Europe &amp; Central Asia</text>
<circle cx="1682" cy="539" r="4.3" fill="#5EB130"/>
<text class="ser ll" x="1709.5" y="550.8" opacity=".5">Latin America &amp; Caribbean</text>
<circle cx="1682" cy="584" r="4.3" fill="#4FBE94"/>
<text class="ser ll" x="1709.5" y="595.8" opacity=".5">Middle East &amp; North Africa</text>
<circle cx="1682" cy="629" r="4.3" fill="#4DB1E5"/>
<text class="ser ll" x="1709.5" y="640.8">North America</text>
<circle cx="1682" cy="674" r="4.3" fill="#9E8BF5"/>
<text class="ser ll" x="1709.5" y="685.8" opacity=".5">South Asia</text>
<circle cx="1682" cy="719" r="4.3" fill="#E667CC"/>
<text class="ser ll" x="1709.5" y="730.8" opacity=".5">Sub-Saharan Africa</text>
</svg></body></html>
